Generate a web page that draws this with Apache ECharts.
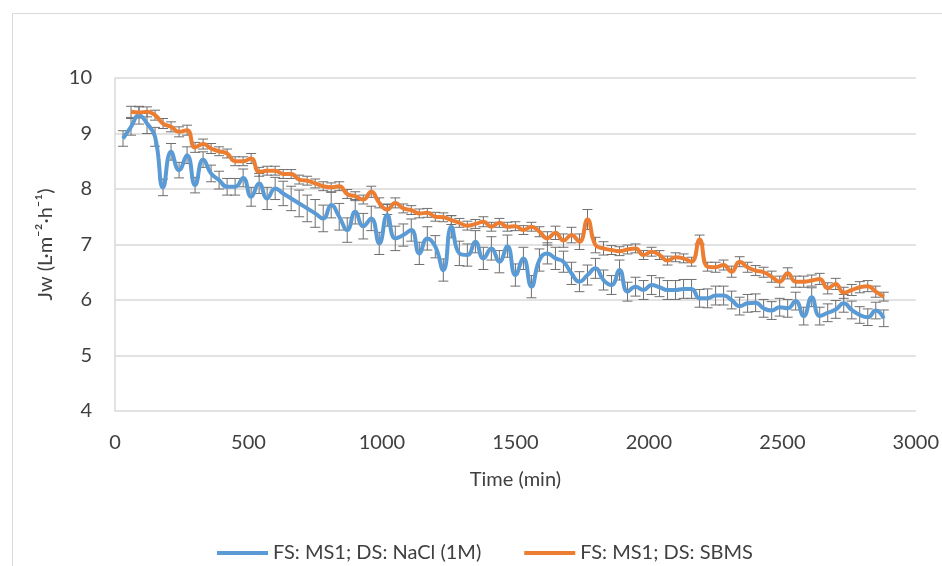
<!DOCTYPE html>
<html>
<head>
<meta charset="utf-8">
<title>Jw vs time</title>
<script src="https://cdn.jsdelivr.net/npm/echarts@6/dist/echarts.min.js"></script>
<style>
  html, body { margin: 0; padding: 0; background: #fff; }
  #chart { width: 942px; height: 566px; }
</style>
</head>
<body>
<div id="chart"></div>
<script>
// time (min)
var times = [30, 60, 90, 120, 150, 180, 210, 240, 270, 300, 330, 360, 390, 420, 450, 480,
  510, 540, 570, 600, 630, 660, 690, 720, 750, 780, 810, 840, 870, 900, 930, 960, 990,
  1020, 1050, 1080, 1110, 1140, 1170, 1200, 1230, 1260, 1290, 1320, 1350, 1380, 1410, 1440, 1470, 1500,
  1530, 1560, 1590, 1620, 1650, 1680, 1710, 1740, 1770, 1800, 1830, 1860, 1890, 1920, 1950, 1980, 2010,
  2040, 2070, 2100, 2130, 2160, 2190, 2220, 2250, 2280, 2310, 2340, 2370, 2400, 2430, 2460, 2490, 2520,
  2550, 2580, 2610, 2640, 2670, 2700, 2730, 2760, 2790, 2820, 2850, 2880];

// FS: MS1; DS: NaCl (1M)
var nacl = [8.91, 9.12, 9.33, 9.18, 8.94, 8.03, 8.67, 8.34, 8.61, 8.07, 8.53, 8.28, 8.16, 8.04, 8.04, 8.20,
  7.86, 8.10, 7.83, 8.01, 7.92, 7.83, 7.74, 7.65, 7.56, 7.47, 7.71, 7.50, 7.26, 7.59, 7.33, 7.47, 7.02,
  7.53, 7.11, 7.17, 7.26, 6.84, 7.11, 6.96, 6.54, 7.32, 6.84, 6.81, 7.05, 6.75, 6.93, 6.69, 6.97, 6.45,
  6.75, 6.24, 6.72, 6.84, 6.75, 6.69, 6.48, 6.33, 6.45, 6.57, 6.36, 6.27, 6.54, 6.15, 6.24, 6.18, 6.27,
  6.23, 6.18, 6.18, 6.20, 6.20, 6.03, 6.03, 6.08, 6.08, 6.00, 5.89, 5.94, 5.95, 5.85, 5.81, 5.87, 5.85,
  5.98, 5.71, 6.05, 5.71, 5.77, 5.83, 5.94, 5.82, 5.73, 5.69, 5.81, 5.67];
var naclErr = [0.14, 0.15, 0.16, 0.18, 0.17, 0.15, 0.15, 0.14, 0.15, 0.14, 0.14, 0.15, 0.16, 0.15, 0.15, 0.16,
  0.17, 0.18, 0.2, 0.2, 0.22, 0.22, 0.24, 0.24, 0.25, 0.24, 0.23, 0.24, 0.22, 0.22, 0.23, 0.22, 0.2,
  0.2, 0.22, 0.2, 0.2, 0.2, 0.21, 0.2, 0.2, 0.2, 0.22, 0.2, 0.2, 0.2, 0.21, 0.2, 0.2, 0.2,
  0.2, 0.2, 0.2, 0.19, 0.2, 0.19, 0.2, 0.18, 0.18, 0.18, 0.18, 0.17, 0.18, 0.17, 0.17, 0.17, 0.17,
  0.17, 0.17, 0.17, 0.17, 0.17, 0.16, 0.17, 0.17, 0.17, 0.16, 0.16, 0.16, 0.16, 0.16, 0.16, 0.16, 0.16,
  0.16, 0.16, 0.17, 0.16, 0.16, 0.16, 0.16, 0.16, 0.15, 0.15, 0.15, 0.15];

// FS: MS1; DS: SBMS
var sbms = [null, 9.39, 9.38, 9.39, 9.33, 9.18, 9.12, 9.03, 9.06, 8.75, 8.81, 8.73, 8.68, 8.64, 8.50, 8.50,
  8.55, 8.31, 8.33, 8.33, 8.27, 8.27, 8.17, 8.15, 8.10, 8.05, 8.03, 8.05, 7.91, 7.87, 7.81, 7.95, 7.75,
  7.63, 7.75, 7.65, 7.62, 7.56, 7.57, 7.50, 7.49, 7.44, 7.39, 7.34, 7.37, 7.41, 7.32, 7.39, 7.32, 7.33,
  7.26, 7.32, 7.23, 7.11, 7.21, 7.07, 7.17, 7.05, 7.45, 6.99, 6.93, 6.90, 6.88, 6.91, 6.93, 6.81, 6.87,
  6.81, 6.71, 6.77, 6.75, 6.69, 7.09, 6.60, 6.59, 6.63, 6.51, 6.69, 6.59, 6.53, 6.50, 6.42, 6.33, 6.48,
  6.33, 6.33, 6.35, 6.38, 6.21, 6.29, 6.13, 6.18, 6.23, 6.25, 6.15, 6.06];
var sbmsErr = [null, 0.1, 0.1, 0.09, 0.09, 0.09, 0.09, 0.09, 0.09, 0.09, 0.09, 0.09, 0.08, 0.08, 0.08, 0.08,
  0.09, 0.08, 0.08, 0.08, 0.08, 0.08, 0.08, 0.08, 0.08, 0.08, 0.08, 0.08, 0.08, 0.08, 0.08, 0.1, 0.09,
  0.09, 0.09, 0.08, 0.08, 0.08, 0.08, 0.08, 0.08, 0.08, 0.08, 0.08, 0.08, 0.09, 0.08, 0.08, 0.08, 0.08,
  0.08, 0.08, 0.09, 0.12, 0.12, 0.12, 0.14, 0.14, 0.18, 0.14, 0.12, 0.08, 0.08, 0.08, 0.08, 0.08, 0.08,
  0.08, 0.08, 0.08, 0.08, 0.08, 0.08, 0.08, 0.09, 0.09, 0.1, 0.09, 0.09, 0.09, 0.09, 0.1, 0.1, 0.1,
  0.1, 0.1, 0.1, 0.1, 0.1, 0.1, 0.1, 0.1, 0.1, 0.1, 0.1, 0.08];

var yTicks = [4, 5, 6, 7, 8, 9, 10];
var xTicks = [0, 500, 1000, 1500, 2000, 2500, 3000];

var FONT = 'Lato';
var FS = 20;
var BLUE = '#5B9BD5';
var ORANGE = '#ED7D31';

function pairs(vals) {
  let out = [];
  for (let i = 0; i < times.length; i++) {
    out.push([times[i], vals[i]]);
  }
  return out;
}

function errData(vals, errs) {
  let out = [];
  for (let i = 0; i < times.length; i++) {
    if (vals[i] == null) continue;
    out.push([times[i], vals[i], errs[i]]);
  }
  return out;
}

function renderErr(params, api) {
  var t = api.value(0), v = api.value(1), e = api.value(2);
  var hi = api.coord([t, v + e]);
  var lo = api.coord([t, v - e]);
  var cap = 5;
  var st = { stroke: '#6f6f6f', lineWidth: 1 };
  return {
    type: 'group',
    children: [
      { type: 'line', shape: { x1: hi[0], y1: hi[1], x2: lo[0], y2: lo[1] }, style: st },
      { type: 'line', shape: { x1: hi[0] - cap, y1: hi[1], x2: hi[0] + cap, y2: hi[1] }, style: st },
      { type: 'line', shape: { x1: lo[0] - cap, y1: lo[1], x2: lo[0] + cap, y2: lo[1] }, style: st }
    ]
  };
}

var myChart = echarts.init(document.getElementById('chart'));

option = {
  animation: false,
  backgroundColor: '#fff',
  textStyle: { fontFamily: FONT },
  graphic: [{
    type: 'rect',
    shape: { x: 12.5, y: 13.5, width: 1000, height: 700 },
    style: { fill: 'none', stroke: '#d9d9d9', lineWidth: 1 },
    silent: true
  }],
  grid: { left: 115, right: 26, top: 78, bottom: 155 },
  legend: {
    data: ['FS: MS1; DS: NaCl (1M)', 'FS: MS1; DS: SBMS'],
    left: 212,
    top: 538,
    icon: 'rect',
    itemWidth: 51,
    itemHeight: 4,
    itemGap: 43,
    textStyle: { fontFamily: FONT, fontSize: FS, color: '#404040' }
  },
  xAxis: {
    type: 'value',
    min: 0,
    max: 3000,
    interval: 500,
    name: 'Time (min)',
    nameLocation: 'middle',
    nameGap: 59,
    nameTextStyle: { fontFamily: FONT, fontSize: FS, color: '#404040' },
    axisLine: { show: false },
    axisTick: { show: false },
    splitLine: { show: false },
    axisLabel: {
      margin: 22, fontFamily: FONT, fontSize: FS, color: '#404040',
      formatter: function (v) { return xTicks.indexOf(v) >= 0 ? String(v) : ''; }
    }
  },
  yAxis: {
    type: 'value',
    min: 4,
    max: 10,
    interval: 1,
    name: 'Jw (L·m⁻²·h⁻¹)',
    nameLocation: 'middle',
    nameRotate: 90,
    nameGap: 59,
    nameTextStyle: { fontFamily: FONT, fontSize: FS, color: '#404040' },
    axisLine: { show: true, lineStyle: { color: '#d9d9d9', width: 1.5 } },
    axisTick: { show: false },
    splitLine: { show: true, lineStyle: { color: '#d9d9d9', width: 1.5 } },
    axisLabel: {
      margin: 23, fontFamily: FONT, fontSize: FS, color: '#404040',
      formatter: function (v) { return yTicks.indexOf(v) >= 0 ? String(v) : ''; }
    }
  },
  series: [
    {
      name: 'NaCl err',
      type: 'custom',
      renderItem: renderErr,
      data: errData(nacl, naclErr),
      encode: { x: 0, y: 1 },
      z: 1,
      silent: true
    },
    {
      name: 'SBMS err',
      type: 'custom',
      renderItem: renderErr,
      data: errData(sbms, sbmsErr),
      encode: { x: 0, y: 1 },
      z: 1,
      silent: true
    },
    {
      name: 'FS: MS1; DS: NaCl (1M)',
      type: 'line',
      data: pairs(nacl),
      smooth: 0.5,
      showSymbol: false,
      color: BLUE,
      lineStyle: { color: BLUE, width: 4 },
      z: 3
    },
    {
      name: 'FS: MS1; DS: SBMS',
      type: 'line',
      data: pairs(sbms),
      smooth: 0.5,
      showSymbol: false,
      color: ORANGE,
      lineStyle: { color: ORANGE, width: 4 },
      z: 4
    }
  ]
};

myChart.setOption(option);
</script>
</body>
</html>
